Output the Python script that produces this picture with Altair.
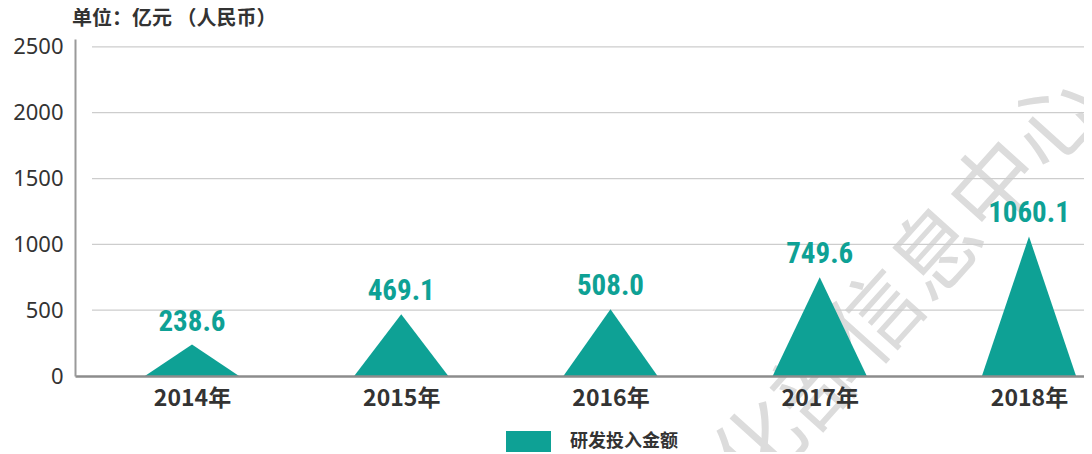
import json
import altair as alt
import pandas as pd

# ---- data ----
years = ["2014年", "2015年", "2016年", "2017年", "2018年"]
values = [238.6, 469.1, 508.0, 749.6, 1060.1]
value_labels = ["238.6", "469.1", "508.0", "749.6", "1060.1"]
y_ticks = [0, 500, 1000, 1500, 2000, 2500]
grid_ticks = [500, 1000, 1500, 2000, 2500]
series_name = "研发投入金额"
unit_title = "单位：亿元 （人民币）"
watermark = "工业和信息化部信息中心"

# ---- style ----
TEAL = "#0ea195"
HALF = 0.225  # half width of each triangle, in category units
W, H = 1009, 337

rows = []
for i, (yr, v) in enumerate(zip(years, values)):
    for off, h in ((-HALF, 0.0), (0.0, v), (HALF, 0.0)):
        rows.append({"year": yr, "pos": i + off, "amount": h, "series": series_name})
tri = pd.DataFrame(rows)
peaks = pd.DataFrame({"year": years, "pos": list(range(len(years))),
                      "amount": values, "label": value_labels})
grid = pd.DataFrame({"amount": grid_ticks})
wm = pd.DataFrame({"t": [watermark]})

xscale = alt.Scale(domain=[-0.5591, 4.2629], nice=False, zero=False)
yscale = alt.Scale(domain=[0, 2560], nice=False, zero=True)
label_expr = "[" + ",".join(json.dumps(y, ensure_ascii=False) for y in years) + "][datum.value]"

x_axis = alt.Axis(
    values=list(range(len(years))), labelExpr=label_expr, title=None,
    ticks=False, grid=False, domainColor="#8c8c8c", domainWidth=2.5,
    labelFontSize=23, labelFontWeight="bold", labelColor="#333333",
    labelFont="Noto Sans CJK SC", labelPadding=11, labelFlush=False, zindex=2)
y_axis = alt.Axis(
    values=y_ticks, format="d", title=None, ticks=False, grid=False,
    domainColor="#9a9a9a", domainWidth=2, labelFontSize=22,
    labelColor="#333333", labelFont="Noto Sans", labelPadding=12, zindex=2)

wm_layer = alt.Chart(wm).mark_text(
    font="Noto Sans CJK SC", fontSize=88, angle=312, align="right",
    baseline="middle", color="#dcdcdc"
).encode(x=alt.value(1012), y=alt.value(52), text="t:N")

grid_layer = alt.Chart(grid).mark_rule(color="#cdcdcd", strokeWidth=1.3).encode(
    y=alt.Y("amount:Q", scale=yscale, axis=y_axis),
    x=alt.value(17), x2=alt.value(W),
)

area_layer = alt.Chart(tri).mark_area(color=TEAL, opacity=1, clip=True).encode(
    x=alt.X("pos:Q", scale=xscale, axis=x_axis),
    y=alt.Y("amount:Q", scale=yscale, stack=None, axis=y_axis),
    color=alt.Color("series:N", scale=alt.Scale(range=[TEAL]), legend=alt.Legend(
        orient="none", legendX=431, legendY=380, title=None, padding=0,
        symbolType="M-1,-0.47H1V0.47H-1Z", symbolSize=2025, symbolStrokeWidth=0,
        symbolOpacity=1, symbolFillColor=TEAL,
        labelFontSize=18, labelFontWeight="bold", labelFont="Noto Sans CJK SC",
        labelColor="#333333", labelOffset=19, zindex=2)),
    detail="year:N",
)

label_layer = alt.Chart(peaks).mark_text(
    font="Noto Sans Condensed, Roboto Condensed, Liberation Sans Narrow, Roboto",
    fontWeight="bold", fontSize=29, color=TEAL, baseline="bottom", dy=-8
).encode(
    x=alt.X("pos:Q", scale=xscale, axis=x_axis),
    y=alt.Y("amount:Q", scale=yscale, axis=y_axis),
    text="label:N",
)

chart = alt.layer(wm_layer, grid_layer, area_layer, label_layer).properties(
    width=W, height=H,
    title=alt.TitleParams(unit_title, anchor="start", frame="group", fontSize=20,
                          fontWeight="bold", color="#333333", font="Noto Sans CJK SC",
                          offset=7, dx=-3),
    autosize=alt.AutoSizeParams(type="none"),
    padding={"left": 67, "top": 31, "right": 0, "bottom": 76},
).configure_view(stroke=None)

chart.save("out.html", embed_options={"renderer": "svg", "actions": False})
